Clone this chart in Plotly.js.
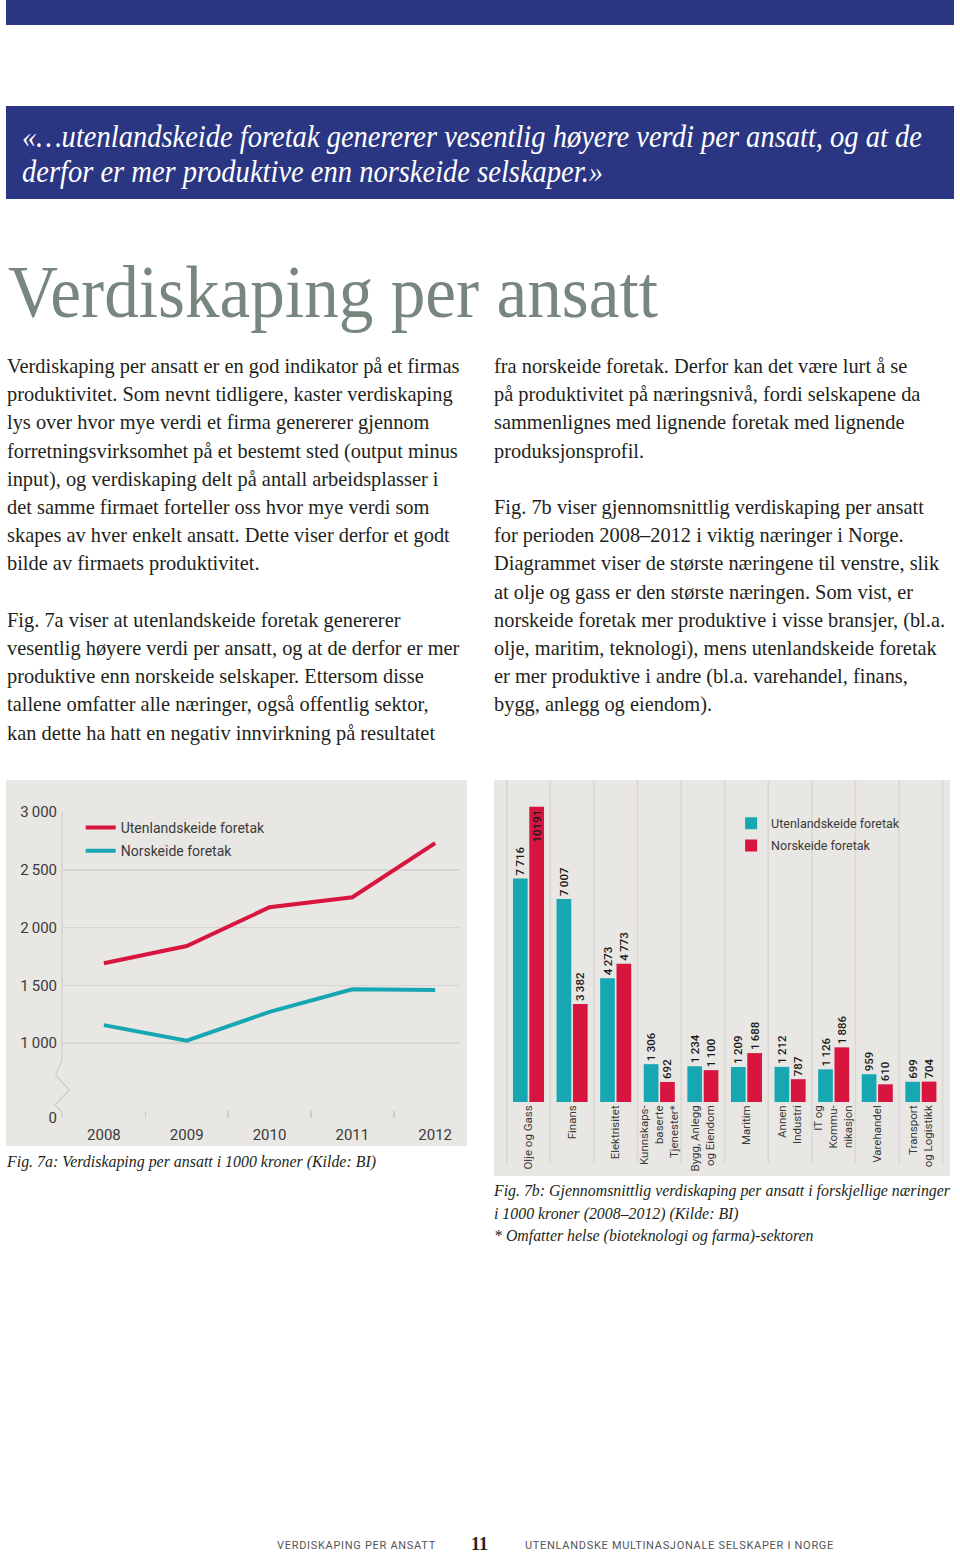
<!DOCTYPE html>
<html><head><meta charset="utf-8">
<script src="https://cdn.plot.ly/plotly-3.0.1.min.js"></script>
<style>
html,body{margin:0;padding:0;background:#fff;}
body{width:960px;height:1554px;position:relative;overflow:hidden;}
.abs{position:absolute;}
.fit{display:inline-block;white-space:nowrap;transform-origin:left center;}
#topbar{left:6px;top:0;width:948px;height:25px;background:#2a3682;}
#quote{left:6px;top:106px;width:948px;height:93px;background:#2a3682;}
#quote .ln{position:absolute;left:16px;color:#fff;font-family:'Liberation Serif',serif;font-style:italic;font-size:31px;white-space:nowrap;transform-origin:left center;}
#title{left:8px;top:250px;color:#77877e;font-family:'Liberation Serif',serif;font-size:74px;white-space:nowrap;transform-origin:left top;}
.col{font-family:'Liberation Serif',serif;font-size:20.4px;line-height:28.2px;color:#231f20;white-space:nowrap;}
#colL{left:7px;top:352px;}
#colR{left:494px;top:352px;}
.cap{font-family:'Liberation Serif',serif;font-style:italic;font-size:17px;color:#231f20;white-space:nowrap;line-height:22.5px;}
.cap span{display:inline-block;transform-origin:left center;}
#capA{left:7px;top:1151px;}
#capB{left:494px;top:1180px;}
#chartA{left:6px;top:780px;width:461px;height:366px;}
#chartB{left:494px;top:780px;width:456px;height:396px;}
.foot{font-family:Roboto,sans-serif;font-size:11px;letter-spacing:0.7px;color:#555;white-space:nowrap;top:1539px;}
#pnum{left:471px;top:1534px;font-family:'Liberation Serif',serif;font-weight:bold;font-size:18px;color:#231f20;}
</style>
</head><body>
<div id="topbar" class="abs"></div>
<div id="quote" class="abs">
  <div class="ln" id="q1" style="top:13px">«…utenlandskeide foretak genererer vesentlig høyere verdi per ansatt, og at de</div>
  <div class="ln" id="q2" style="top:48px">derfor er mer produktive enn norskeide selskaper.»</div>
</div>
<div id="title" class="abs">Verdiskaping per ansatt</div>
<div id="colL" class="abs col">
Verdiskaping per ansatt er en god indikator på et firmas<br>
produktivitet. Som nevnt tidligere, kaster verdiskaping<br>
lys over hvor mye verdi et firma genererer gjennom<br>
forretningsvirksomhet på et bestemt sted (output minus<br>
input), og verdiskaping delt på antall arbeidsplasser i<br>
det samme firmaet forteller oss hvor mye verdi som<br>
skapes av hver enkelt ansatt. Dette viser derfor et godt<br>
bilde av firmaets produktivitet.<br>
<br>
Fig. 7a viser at utenlandskeide foretak genererer<br>
vesentlig høyere verdi per ansatt, og at de derfor er mer<br>
produktive enn norskeide selskaper. Ettersom disse<br>
tallene omfatter alle næringer, også offentlig sektor,<br>
kan dette ha hatt en negativ innvirkning på resultatet
</div>
<div id="colR" class="abs col">
fra norskeide foretak. Derfor kan det være lurt å se<br>
på produktivitet på næringsnivå, fordi selskapene da<br>
sammenlignes med lignende foretak med lignende<br>
produksjonsprofil.<br>
<br>
Fig. 7b viser gjennomsnittlig verdiskaping per ansatt<br>
for perioden 2008–2012 i viktig næringer i Norge.<br>
Diagrammet viser de største næringene til venstre, slik<br>
at olje og gass er den største næringen. Som vist, er<br>
norskeide foretak mer produktive i visse bransjer, (bl.a.<br>
olje, maritim, teknologi), mens utenlandskeide foretak<br>
er mer produktive i andre (bl.a. varehandel, finans,<br>
bygg, anlegg og eiendom).
</div>
<div id="chartA" class="abs"></div>
<div id="chartB" class="abs"></div>
<div id="capA" class="abs cap"><span id="ca1">Fig. 7a: Verdiskaping per ansatt i 1000 kroner (Kilde: BI)</span></div>
<div id="capB" class="abs cap"><span id="cb1">Fig. 7b: Gjennomsnittlig verdiskaping per ansatt i forskjellige næringer</span><br><span class="cbx">i 1000 kroner (2008–2012) (Kilde: BI)</span><br><span class="cbx">* Omfatter helse (bioteknologi og farma)-sektoren</span></div>
<div class="abs foot" style="left:277px">VERDISKAPING PER ANSATT</div>
<div id="pnum" class="abs">11</div>
<div class="abs foot" style="left:525px">UTENLANDSKE MULTINASJONALE SELSKAPER I NORGE</div>

<script>
// ---- Fig 7a data ----
const years = ['2008', '2009', '2010', '2011', '2012'];
const utenlandskLine = [1690, 1840, 2175, 2262, 2730];
const norskLine = [1155, 1020, 1270, 1465, 1460];
const yTickVals = [1000, 1500, 2000, 2500, 3000];
const yTickText = ['1\u2009000', '1\u2009500', '2\u2009000', '2\u2009500', '3\u2009000'];
const axisBreakValue = 351; // broken axis: position of the "0" tick

// ---- Fig 7b data ----
const industries = ['Olje og Gass', 'Finans', 'Elektrisitet', 'Kunnskaps-<br>baserte<br>Tjenester*',
  'Bygg, Anlegg<br>og Eiendom', 'Maritim', 'Annen<br>Industri', 'IT og<br>Kommu-<br>nikasjon',
  'Varehandel', 'Transport<br>og Logistikk'];
const utenlandskBars = [7716, 7007, 4273, 1306, 1234, 1209, 1212, 1126, 959, 699];
const norskBars = [10191, 3382, 4773, 692, 1100, 1688, 787, 1886, 610, 704];

// ---- text fitting (page layout) ----
function fitTo(el, target, list) {
  const w = el.getBoundingClientRect().width;
  const s = target / w;
  (list || [el]).forEach(e => { e.style.transform = 'scaleX(' + s + ')'; });
}
const q1 = document.getElementById('q1'), q2 = document.getElementById('q2');
fitTo(q1, 900, [q1, q2]);
fitTo(document.getElementById('title'), 650);
fitTo(document.getElementById('ca1'), 369);
const cb1 = document.getElementById('cb1');
fitTo(cb1, 456, [cb1].concat(Array.from(document.querySelectorAll('.cbx'))));

const RED = '#d7153f', TEAL = '#17a7b2', BG = '#e9e7e3', GRID = '#d7d5d1', TXT = '#3a3a3a';
const FONT = 'Roboto, sans-serif';

function fmt(v) { return (v >= 1000 && v < 10000) ? String(v).replace(/^(\d)(\d{3})$/, '$1\u2009$2') : String(v); }

// ---- Chart A ----
const brk = [[0, 3000], [0, 853], [-0.016, 723], [0.018, 593], [-0.018, 463], [0, 403], [0, axisBreakValue]];
const brkPath = brk.map((p, i) => (i ? 'L' : 'M') + p[0] + ',' + p[1]).join(' ');
Plotly.newPlot('chartA', [
  { x: years, y: utenlandskLine, type: 'scatter', mode: 'lines', name: 'Utenlandskeide foretak',
    line: { color: RED, width: 4 }, legendgroup: 'a' },
  { x: years, y: norskLine, type: 'scatter', mode: 'lines', name: 'Norskeide foretak',
    line: { color: TEAL, width: 4 }, legendgroup: 'b' }
], {
  width: 461, height: 366,
  margin: { l: 56, r: 7, t: 32, b: 28, pad: 0 },
  paper_bgcolor: BG, plot_bgcolor: 'rgba(0,0,0,0)',
  font: { family: FONT, size: 15, color: TXT },
  showlegend: true,
  legend: { x: 0.047, y: 1.0, xanchor: 'left', yanchor: 'top', bgcolor: 'rgba(0,0,0,0)',
    font: { size: 14, color: TXT }, traceorder: 'grouped', tracegroupgap: 2 },
  xaxis: { type: 'category', range: [-0.506, 4.3], tickson: 'boundaries', ticks: 'inside', ticklen: 7,
    tickwidth: 1.5, tickcolor: '#cfcdc9', showgrid: false, zeroline: false, showline: false,
    ticklabelstandoff: 6 },
  yaxis: { range: [axisBreakValue, 3000], tickvals: [axisBreakValue].concat(yTickVals),
    ticktext: ['0'].concat(yTickText), showgrid: true, gridcolor: GRID, gridwidth: 1.5,
    zeroline: false, showline: false, ticks: '', ticklabelstandoff: 4 },
  shapes: [{ type: 'path', xref: 'paper', yref: 'y', path: brkPath, line: { color: '#d0cec9', width: 1.3 }, layer: 'below' }]
}, { staticPlot: true, displayModeBar: false });

// ---- Chart B ----
const bounds = [];
for (let i = 0; i <= industries.length; i++) bounds.push(i - 0.5);
const barText = { size: 11.5, color: '#1a1a1a', family: FONT, weight: 500 };
Plotly.newPlot('chartB', [
  { x: industries, y: utenlandskBars, type: 'bar', name: 'Utenlandskeide foretak', marker: { color: TEAL },
    text: utenlandskBars.map(fmt), textposition: 'outside', textangle: -90, constraintext: 'none',
    textfont: barText, cliponaxis: false, legendgroup: 'a' },
  { x: industries, y: norskBars, type: 'bar', name: 'Norskeide foretak', marker: { color: RED },
    text: norskBars.map(fmt), textposition: norskBars.map(v => v > 10000 ? 'inside' : 'outside'),
    insidetextanchor: 'end', textangle: -90, constraintext: 'none',
    textfont: barText, insidetextfont: barText, outsidetextfont: barText, cliponaxis: false, legendgroup: 'b' }
], {
  width: 456, height: 396,
  margin: { l: 0, r: 0, t: 10, b: 74, pad: 0 },
  paper_bgcolor: BG, plot_bgcolor: 'rgba(0,0,0,0)',
  barmode: 'group', bargap: 0.25, bargroupgap: 0.1,
  font: { family: FONT, size: 12, color: TXT },
  showlegend: true,
  legend: { x: 0.52, y: 0.94, xanchor: 'left', yanchor: 'top', bgcolor: 'rgba(0,0,0,0)',
    font: { size: 12.5, color: TXT }, traceorder: 'grouped', tracegroupgap: 3 },
  xaxis: { type: 'category', range: [-0.791, 9.668], tickangle: -90, ticks: '', showgrid: false,
    zeroline: false, showline: false, tickfont: { size: 11.5, color: TXT } },
  yaxis: { range: [0, 10770], visible: false },
  shapes: bounds.map(b => ({ type: 'line', xref: 'x', yref: 'paper', x0: b, x1: b, y0: -0.196, y1: 1.04,
    line: { color: '#d9d7d2', width: 1.5 }, layer: 'below' }))
}, { staticPlot: true, displayModeBar: false });
</script>
</body></html>
